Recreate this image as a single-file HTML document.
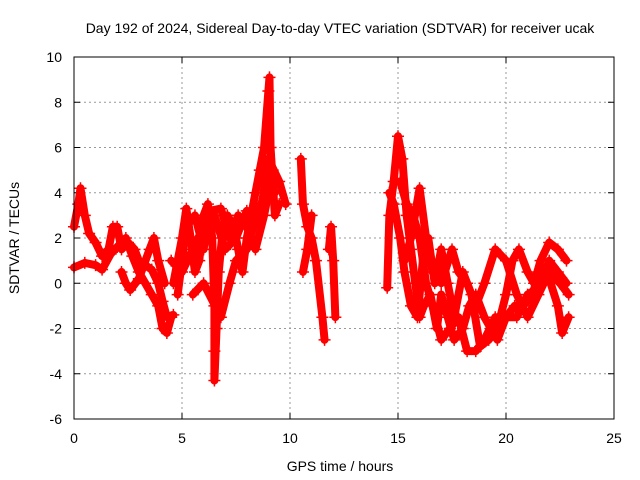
<!DOCTYPE html>
<html><head><meta charset="utf-8"><style>
body{margin:0;background:#fff}
svg{display:block;font-family:"Liberation Sans",sans-serif}
</style></head><body>
<svg id="chart" width="640" height="480">
<text x="340" y="33" font-size="14" text-anchor="middle">Day 192 of 2024, Sidereal Day-to-day VTEC variation (SDTVAR) for receiver ucak</text>
<text x="340" y="471" font-size="14" text-anchor="middle">GPS time / hours</text>
<text transform="translate(19,238) rotate(-90)" font-size="14" text-anchor="middle">SDTVAR / TECUs</text>
<g id="grid"></g><g id="ticks"></g><g id="marks"></g>
<rect x="74" y="57" width="540" height="362" fill="none" stroke="#000" stroke-width="1"/>
</svg>
<script>
const xTicks=[0,5,10,15,20,25];
const yTicks=[-6,-4,-2,0,2,4,6,8,10];
const trackA=[[0,2.5],[0.2,3.5],[0.3,4.2],[0.5,3],[0.7,2.2],[1,1.8],[1.3,1.2],[1.6,1.5],[1.8,2.5],[2,2.5],[2.2,1.5],[2.5,1.8],[2.8,1.5],[3,1],[3.3,0.8],[3.6,0.6],[3.9,0],[4.1,-0.8],[4.3,-1.5],[4.6,-1.4]];
const trackB=[[0,0.7],[0.5,0.9],[1,0.8],[1.3,0.6],[1.7,1.3],[2,1.6],[2.4,2],[2.7,1.2],[3,0.5],[3.3,0],[3.6,-0.5],[3.9,-1],[4.1,-2],[4.3,-2.2],[4.5,-1.5]];
const trackC=[[2.2,0.5],[2.4,0],[2.6,-0.3],[3,0.2],[3.5,1.5],[3.7,2],[3.9,1],[4.2,0]];
const trackD=[[4.6,0],[4.8,1],[5,2],[5.2,3.3],[5.4,2],[5.6,0.5],[5.8,1],[6,3],[6.2,3.5],[6.4,2],[6.5,-1],[6.5,-3],[6.5,-4.3],[6.6,-2],[6.7,0.5],[6.9,2.5],[7.1,3],[7.4,2.5],[7.6,1.5],[7.8,0.5],[8,2],[8.2,3],[8.4,4],[8.6,5],[8.8,6],[9,8.5],[9.05,9.1],[9.1,6],[9.3,3],[9.5,3.5]];
const trackE=[[4.5,1],[5,0.5],[5.5,1.5],[6,2.5],[6.5,3],[7,1.5],[7.5,2],[8,3.2],[8.5,3],[9,4.5],[9.3,4]];
const trackF=[[5.5,-0.5],[6,0],[6.8,-1.5],[7.2,0],[7.5,1],[8,1.5],[8.3,2.5],[8.7,3.5],[9,5.5],[9.5,4.5],[9.8,3.5]];
const trackN=[[4.8,-0.5],[5.2,2.5],[5.6,3],[6,1.5],[6.3,3.2],[6.8,3.3],[7.2,2],[7.6,3],[8,2.5],[8.4,1.5],[8.8,3],[9.2,5]];
const trackG=[[10.5,5.5],[10.6,3.5],[10.8,2.5],[11,2],[11.2,1],[11.5,-1.5],[11.6,-2.5]];
const trackH=[[10.6,0.5],[10.8,1.5],[11,3]];
const trackI=[[11.8,1.5],[11.9,2.5],[12,1],[12.1,-1.5]];
const trackJ=[[14.5,-0.2],[14.6,3],[14.8,4.5],[15,6.5],[15.2,5.5],[15.4,3],[15.6,1.5],[15.8,0],[16,-1.5],[16.2,-1],[16.5,-0.5],[16.8,-2],[17,-0.5],[17.3,-1.5],[17.6,-2.5],[18,-2],[18.3,-1],[18.6,-0.5],[19,-1.5],[19.3,-2],[19.6,-2.5],[20,-1.5],[20.4,-1],[20.8,-1],[21.2,-0.5],[21.6,0.5],[22,0.2],[22.4,-1],[22.6,-2.2],[22.9,-1.5]];
const trackK=[[14.6,4],[14.8,3.5],[15.1,2],[15.3,0.5],[15.6,-1],[15.9,-1.5],[16.2,1.5],[16.4,2],[16.7,0],[17,1.5],[17.3,0],[17.6,-1.5],[18,0.5],[18.4,-0.5],[18.8,-2.8],[19.2,-2.5],[19.6,-2],[20,-0.5],[20.3,1],[20.6,1.5],[21,0.5],[21.3,0],[21.6,1],[22,1.8],[22.4,1.5],[22.8,1]];
const trackL=[[15.1,4.5],[15.4,3.5],[15.7,3],[16,2],[16.3,0],[16.6,-1],[17,-2.5],[17.4,-2],[17.8,-1.5],[18.2,-3],[18.6,-3],[19,-2.5],[19.5,-1.5],[20,-1.5],[20.5,-1.5],[21,-0.5],[21.5,-0.2],[22,1],[22.4,0.5],[22.8,0]];
const trackM=[[15.3,1],[15.6,2],[16,4.2],[16.3,2],[16.6,0.5],[17,0],[17.5,1.5],[17.8,0.5],[18.2,0],[18.6,-1],[19,0],[19.5,1.5],[20,1],[20.5,-0.5],[21,-1.5],[21.5,-0.5],[22,0.5],[22.5,0],[22.9,-0.5]];
const tracks=[trackA,trackB,trackC,trackD,trackE,trackF,trackN,trackG,trackH,trackI,trackJ,trackK,trackL,trackM];
const X0=74,X1=614,Y0=419,Y1=57;
const sx=v=>X0+(v-0)/(25-0)*(X1-X0);
const sy=v=>Y0-(v+6)/16*(Y0-Y1);
const NS="http://www.w3.org/2000/svg";
const grid=document.getElementById('grid'),ticks=document.getElementById('ticks'),marks=document.getElementById('marks');
function mk(tag,attrs,parent){const e=document.createElementNS(NS,tag);for(const k in attrs)e.setAttribute(k,attrs[k]);parent.appendChild(e);return e;}
xTicks.forEach(t=>{
  const x=sx(t);
  if(t>0&&t<25){const g=mk('line',{x1:x,x2:x,y1:Y1,y2:Y0,stroke:'#999','stroke-dasharray':'2,3'},grid);
  
  }
  const tk=mk('path',{d:`M${x},${Y0}v-6M${x},${Y1}v6`,stroke:'#000'},ticks);
  
  
  const l=mk('text',{x:x,y:Y0+24,'font-size':14,'text-anchor':'middle'},ticks);l.textContent=t;
  
  
});
yTicks.forEach(t=>{
  const y=sy(t);
  if(t>-6&&t<10){const g=mk('line',{x1:X0,x2:X1,y1:y,y2:y,stroke:'#999','stroke-dasharray':'2,3'},grid);
  
  }
  const tk=mk('path',{d:`M${X0},${y}h6M${X1},${y}h-6`,stroke:'#000'},ticks);
  
  
  const l=mk('text',{x:X0-12,y:y+5,'font-size':14,'text-anchor':'end'},ticks);l.textContent=t;
  
  
});
tracks.forEach((tr,i)=>{
  const pl=mk('polyline',{points:tr.map(p=>sx(p[0])+','+sy(p[1])).join(' '),fill:'none',stroke:'#f00','stroke-width':8,'stroke-linejoin':'round','stroke-linecap':'round'},marks);
  
  
  tr.forEach(p=>{
    const x=sx(p[0]),y=sy(p[1]);
    const m=mk('path',{d:`M${x-6},${y}H${x+6}M${x},${y-6}V${y+6}`,stroke:'#f00','stroke-width':1.5},marks);
    
    
  });
});
</script>
</body></html>
